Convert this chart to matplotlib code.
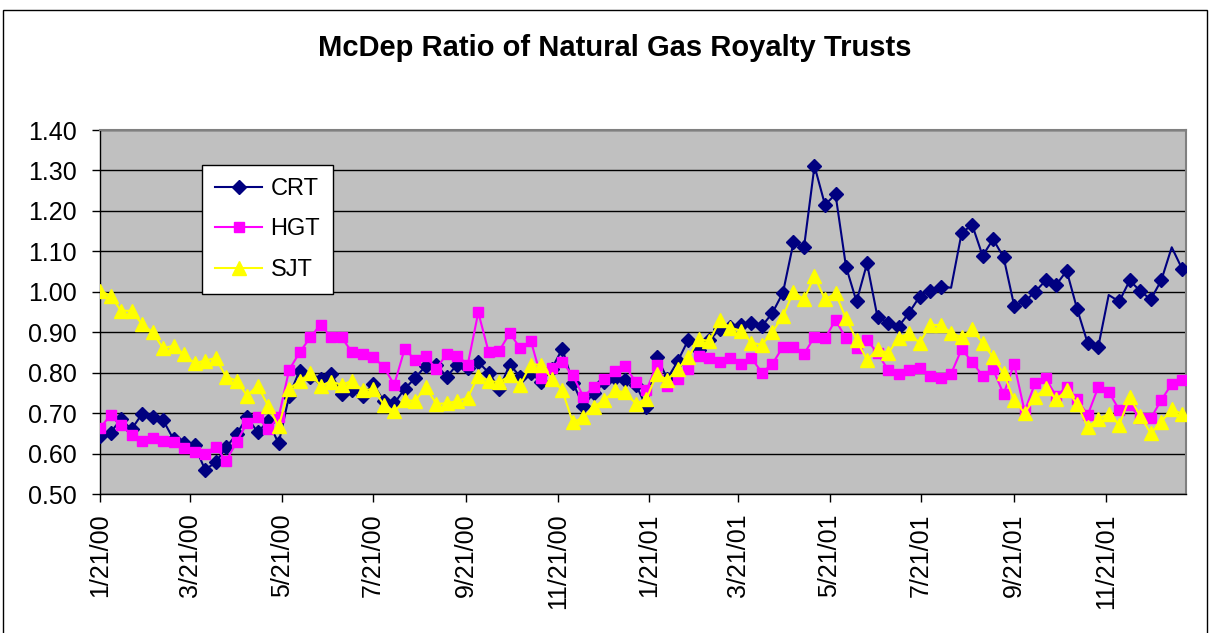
import datetime as dt
import matplotlib
matplotlib.use("Agg")
import matplotlib.pyplot as plt
import matplotlib.dates as mdates
from matplotlib.patches import Rectangle

plt.rcParams['font.family'] = ['Liberation Sans', 'DejaVu Sans']

title = "McDep Ratio of Natural Gas Royalty Trusts"
series_names = ["CRT", "HGT", "SJT"]
start_date = dt.date(2000, 1, 21)
n_weeks = 104
dates = [start_date + dt.timedelta(days=7 * i) for i in range(n_weeks)]

crt = [0.643, 0.652, 0.685, 0.66, 0.698, 0.69, 0.683, 0.635, 0.625, 0.62, 0.56, 0.578, 0.615, 0.648, 0.69, 0.653, 0.68, 0.625,
       0.743, 0.805, 0.79, 0.784, 0.797, 0.748, 0.757, 0.743, 0.772, 0.73, 0.724, 0.76, 0.787, 0.817, 0.82, 0.79, 0.82, 0.812,
       0.826, 0.80, 0.76, 0.82, 0.79, 0.80, 0.776, 0.81, 0.859, 0.775, 0.718, 0.75, 0.776, 0.786, 0.783, 0.77, 0.716, 0.838,
       0.785, 0.829, 0.882, 0.857, 0.88, 0.908, 0.914, 0.918, 0.924, 0.915, 0.948, 0.998, 1.122, 1.11, 1.311, 1.215, 1.241, 1.062,
       0.976, 1.07, 0.937, 0.924, 0.914, 0.948, 0.988, 1.003, 1.013, 1.01, 1.145, 1.166, 1.089, 1.13, 1.085, 0.966, 0.976, 1.0,
       1.028, 1.017, 1.052, 0.957, 0.873, 0.863, 0.992, 0.976, 1.028, 1.002, 0.981, 1.028, 1.11, 1.056]
hgt = [0.663, 0.695, 0.67, 0.647, 0.632, 0.638, 0.632, 0.628, 0.614, 0.605, 0.60, 0.617, 0.582, 0.628, 0.676, 0.69, 0.66, 0.69,
       0.807, 0.85, 0.887, 0.919, 0.887, 0.887, 0.85, 0.845, 0.838, 0.815, 0.77, 0.859, 0.831, 0.84, 0.81, 0.846, 0.842, 0.82,
       0.949, 0.85, 0.854, 0.898, 0.86, 0.879, 0.787, 0.812, 0.826, 0.793, 0.741, 0.764, 0.784, 0.805, 0.816, 0.776, 0.756, 0.82,
       0.767, 0.784, 0.808, 0.841, 0.836, 0.827, 0.836, 0.822, 0.836, 0.80, 0.822, 0.864, 0.864, 0.846, 0.889, 0.885, 0.93, 0.885,
       0.86, 0.881, 0.848, 0.807, 0.796, 0.807, 0.811, 0.792, 0.786, 0.797, 0.858, 0.827, 0.792, 0.808, 0.747, 0.822, 0.704, 0.775,
       0.786, 0.742, 0.765, 0.734, 0.695, 0.764, 0.753, 0.708, 0.72, 0.687, 0.687, 0.732, 0.772, 0.782]
sjt = [1.003, 0.99, 0.953, 0.953, 0.92, 0.90, 0.86, 0.867, 0.845, 0.823, 0.83, 0.836, 0.79, 0.78, 0.743, 0.768, 0.718, 0.667,
       0.76, 0.779, 0.798, 0.768, 0.778, 0.77, 0.78, 0.756, 0.76, 0.721, 0.704, 0.732, 0.73, 0.764, 0.723, 0.724, 0.73, 0.738,
       0.792, 0.78, 0.776, 0.793, 0.77, 0.82, 0.82, 0.784, 0.756, 0.677, 0.69, 0.716, 0.732, 0.756, 0.751, 0.723, 0.735, 0.797,
       0.782, 0.81, 0.838, 0.883, 0.878, 0.93, 0.911, 0.904, 0.874, 0.869, 0.901, 0.94, 1.0, 0.981, 1.039, 0.981, 0.996, 0.934,
       0.881, 0.831, 0.858, 0.848, 0.885, 0.899, 0.873, 0.918, 0.918, 0.899, 0.887, 0.907, 0.874, 0.838, 0.798, 0.732, 0.70, 0.739,
       0.762, 0.734, 0.756, 0.723, 0.665, 0.685, 0.698, 0.671, 0.739, 0.693, 0.65, 0.679, 0.709, 0.698]
crt_no_marker = [81, 96, 102]

tick_dates = [dt.date(2000, m, 21) for m in (1, 3, 5, 7, 9, 11)] + \
             [dt.date(2001, m, 21) for m in (1, 3, 5, 7, 9, 11)]
tick_labels = [f"{d.month}/{d.day}/{d.strftime('%y')}" for d in tick_dates]
y_ticks = [0.50, 0.60, 0.70, 0.80, 0.90, 1.00, 1.10, 1.20, 1.30, 1.40]

W, H = 1212, 633
fig = plt.figure(figsize=(W / 100, H / 100), dpi=100)
fig.patch.set_facecolor("white")

# outer frame
fig.patches.append(Rectangle((3 / W, -0.05), (1207 - 3) / W, 1.05 - 10 / H, transform=fig.transFigure,
                             fill=False, edgecolor="black", linewidth=1.0))

ax = fig.add_axes([100 / W, (H - 494) / H, (1186 - 100) / W, (494 - 130) / H])
ax.set_facecolor("#C0C0C0")

marks = [i for i in range(n_weeks) if i not in crt_no_marker]
ax.plot(dates, crt, color="#000080", lw=1.5, marker="D", ms=7.5, mec="#000080", mfc="#000080",
        markevery=marks, label=series_names[0], zorder=3)
ax.plot(dates, hgt, color="#FF00FF", lw=1.5, marker="s", ms=7.5, mec="#FF00FF", mfc="#FF00FF",
        label=series_names[1], zorder=4)
ax.plot(dates, sjt, color="#FFFF00", lw=1.5, marker="^", ms=9.5, mec="#FFFF00", mfc="#FFFF00",
        label=series_names[2], zorder=5)

ax.set_ylim(0.5, 1.4)
ax.set_yticks(y_ticks)
ax.set_yticklabels([f"{v:.2f}" for v in y_ticks])
ax.yaxis.grid(True, color="black", lw=1.0)
ax.set_axisbelow(True)

x0 = mdates.date2num(start_date)
ax.set_xlim(x0, x0 + 723.5)
ax.set_xticks([mdates.date2num(d) for d in tick_dates])
ax.set_xticklabels(tick_labels, rotation=90)

ax.tick_params(axis="y", direction="out", length=6, width=1, pad=11, labelsize=18)
ax.tick_params(axis="x", direction="out", length=6, width=1, pad=8, labelsize=18)

for s in ("top", "right"):
    ax.spines[s].set_color("#808080")
    ax.spines[s].set_linewidth(1.5)
for s in ("left", "bottom"):
    ax.spines[s].set_color("black")
    ax.spines[s].set_linewidth(1.0)

fig.text(615 / W, 1 - 48 / H, title, ha="center", va="center", fontsize=21, fontweight="bold")

leg = ax.legend(loc="upper left", bbox_to_anchor=(202 / W, 1 - 165 / H), bbox_transform=fig.transFigure,
                fontsize=17, frameon=True, fancybox=False, edgecolor="black", framealpha=1,
                handlelength=2.0, handletextpad=0.35, labelspacing=0.78, borderpad=0.55, borderaxespad=0)
leg.get_frame().set_linewidth(1.0)

fig.savefig("out.png", dpi=100, facecolor="white")
